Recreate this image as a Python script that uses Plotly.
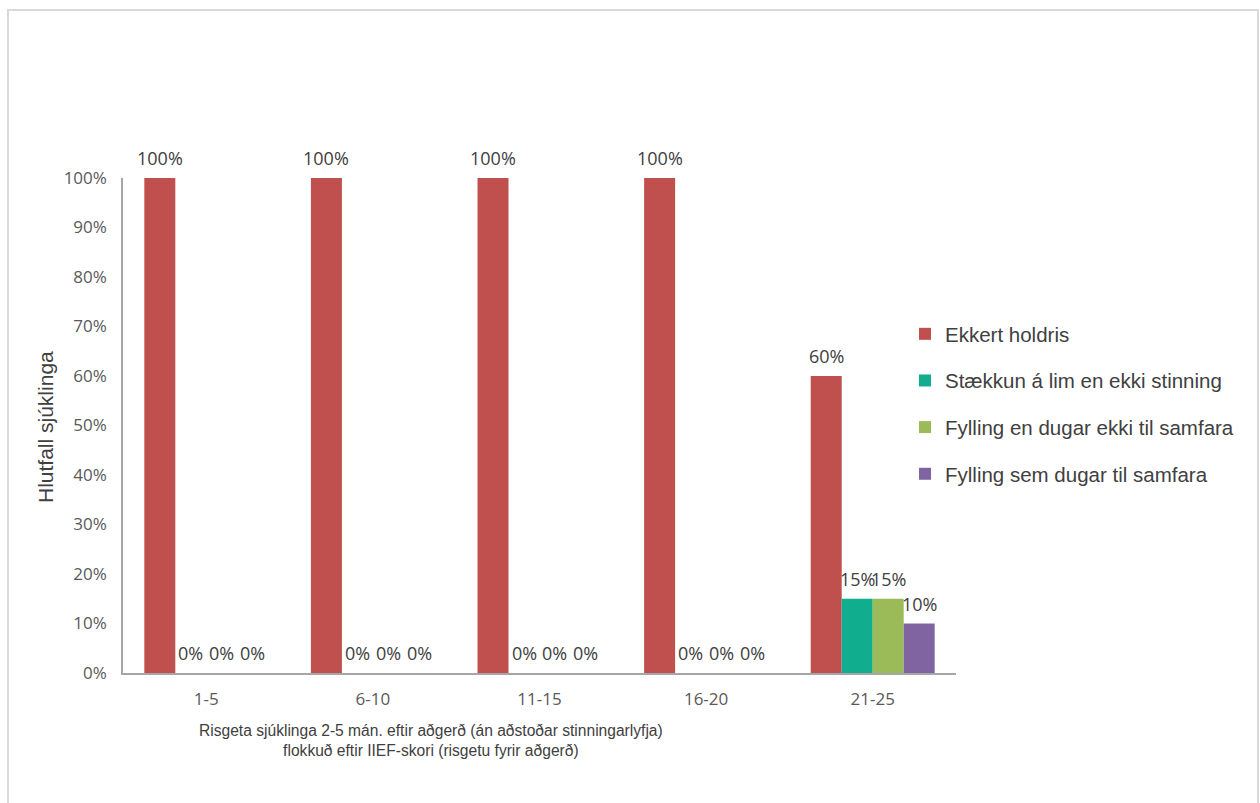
import plotly.graph_objects as go

# IIEF score groups (erectile function before surgery)
categories = ["1-5", "6-10", "11-15", "16-20", "21-25"]

# Share of patients per outcome, 2-5 months after surgery
series_names = [
    "Ekkert holdris",
    "Stækkun á lim en ekki stinning",
    "Fylling en dugar ekki til samfara",
    "Fylling sem dugar til samfara",
]
ekkert_holdris = [1.00, 1.00, 1.00, 1.00, 0.60]
staekkun = [0.00, 0.00, 0.00, 0.00, 0.15]
fylling_ekki = [0.00, 0.00, 0.00, 0.00, 0.15]
fylling_dugar = [0.00, 0.00, 0.00, 0.00, 0.10]
series_values = [ekkert_holdris, staekkun, fylling_ekki, fylling_dugar]

y_ticks = [0, 0.1, 0.2, 0.3, 0.4, 0.5, 0.6, 0.7, 0.8, 0.9, 1.0]

colors = ["#C0504D", "#10AE8E", "#9BBB59", "#8064A2"]

# plot area in pixels
W, H = 1260, 803
L, R, T, B = 123, 304, 178, 130
pw, ph = W - L - R, H - T - B
BARGAP = 0.256

LABEL_FONT = "Open Sans, Segoe UI, sans-serif"
TEXT_FONT = "Liberation Sans, Arial, sans-serif"


def px_x(x):
    return (x - L) / pw


def px_y(y):
    return (H - B - y) / ph


fig = go.Figure()
for k, (name, vals, col) in enumerate(zip(series_names, series_values, colors)):
    fig.add_trace(go.Bar(
        x=categories, y=vals, name=name, marker=dict(color=col, line=dict(width=0)),
        legendgroup=f"g{k}",
    ))

# value labels above each bar
n = len(series_names)
slot = (1 - BARGAP) / n
annotations = []
for k, vals in enumerate(series_values):
    for i, v in enumerate(vals):
        annotations.append(dict(
            x=i + (k - (n - 1) / 2) * slot, y=v, xref="x", yref="y",
            text=f"{round(v * 100)}%", showarrow=False, yanchor="middle", yshift=20,
            font=dict(family=LABEL_FONT, size=18, color="#404040"),
        ))

# axis titles
annotations.append(dict(
    x=px_x(431), y=px_y(740), xref="paper", yref="paper",
    text="Risgeta sjúklinga 2-5 mán. eftir aðgerð (án aðstoðar stinningarlyfja)<br>"
         "flokkuð eftir IIEF-skori (risgetu fyrir aðgerð)",
    showarrow=False, xanchor="center", yanchor="middle",
    font=dict(family="Liberation Sans Narrow, Arial Narrow, " + TEXT_FONT, size=15.6, color="#404040"),
))
annotations.append(dict(
    x=px_x(45), y=px_y(427), xref="paper", yref="paper",
    text="Hlutfall sjúklinga", textangle=-90, showarrow=False,
    xanchor="center", yanchor="middle",
    font=dict(family=TEXT_FONT, size=21, color="#404040"),
))

fig.update_layout(
    width=W, height=H,
    margin=dict(l=L, r=R, t=T, b=B, autoexpand=False),
    paper_bgcolor="white", plot_bgcolor="white",
    barmode="group", bargap=BARGAP, bargroupgap=0,
    showlegend=True,
    legend=dict(
        x=px_x(905), y=px_y(404), xanchor="left", yanchor="middle",
        traceorder="grouped", tracegroupgap=17,
        font=dict(family=TEXT_FONT, size=20.5, color="#404040"),
        bgcolor="rgba(0,0,0,0)",
    ),
    xaxis=dict(
        type="category", range=[-0.5, len(categories) - 0.5],
        showline=True, linecolor="#A6A6A6", linewidth=2,
        showgrid=False, zeroline=False, ticks="", ticklabelstandoff=10,
        tickfont=dict(family=LABEL_FONT, size=17, color="#595959"),
    ),
    yaxis=dict(
        range=[0, 1], tickvals=y_ticks, tickformat=".0%",
        showline=True, linecolor="#A6A6A6", linewidth=1.5,
        showgrid=False, zeroline=False, ticks="", ticklabelstandoff=11,
        tickfont=dict(family=LABEL_FONT, size=17, color="#595959"),
    ),
    annotations=annotations,
    shapes=[dict(
        type="rect", xref="paper", yref="paper",
        x0=px_x(8), x1=px_x(1258), y0=px_y(810), y1=px_y(10),
        line=dict(color="#D9D9D9", width=2), fillcolor="rgba(0,0,0,0)", layer="below",
    )],
)

fig.write_html("out.html")
